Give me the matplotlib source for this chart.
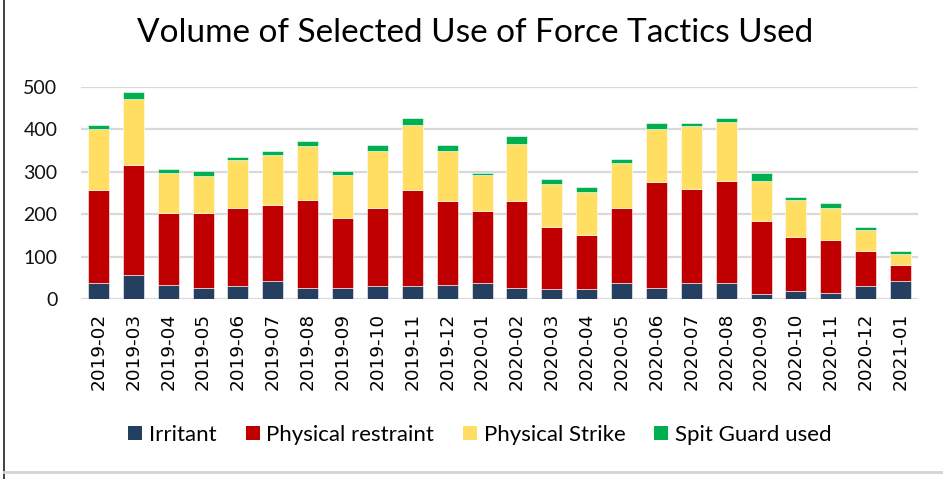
import matplotlib.pyplot as plt
import numpy as np
from matplotlib.lines import Line2D
from matplotlib.patches import Patch

months = ['2019-02', '2019-03', '2019-04', '2019-05', '2019-06', '2019-07',
          '2019-08', '2019-09', '2019-10', '2019-11', '2019-12', '2020-01',
          '2020-02', '2020-03', '2020-04', '2020-05', '2020-06', '2020-07',
          '2020-08', '2020-09', '2020-10', '2020-11', '2020-12', '2021-01']

irritant = [38, 57, 34, 27, 31, 42, 27, 27, 31, 31, 34, 38,
            27, 23, 23, 38, 27, 38, 38, 12, 19, 15, 31, 42]
restraint = [218, 259, 169, 176, 184, 180, 207, 165, 184, 225, 196, 169,
             203, 147, 128, 177, 248, 222, 241, 172, 128, 124, 82, 37]
strike = [144, 155, 95, 87, 113, 117, 127, 101, 135, 154, 120, 86,
          135, 101, 101, 106, 127, 147, 139, 95, 87, 76, 49, 26]
spit = [11, 16, 8, 12, 8, 9, 12, 9, 12, 16, 12, 5,
        19, 12, 12, 10, 13, 8, 8, 19, 7, 11, 8, 8]

colors = ['#253F60', '#C00000', '#FFDE62', '#00B050']
names = ['Irritant', 'Physical restraint', 'Physical Strike', 'Spit Guard used']

plt.rcParams['font.family'] = ['Lato', 'DejaVu Sans']

fig = plt.figure(figsize=(9.43, 4.79), dpi=100)
ax = fig.add_axes([0.0859, 0.3758, 0.8876, 0.4426])

x = np.arange(len(months))
bottom = np.zeros(len(months))
for vals, c in zip([irritant, restraint, strike, spit], colors):
    ax.bar(x, vals, 0.6, bottom=bottom, color=c, edgecolor='white', linewidth=0.4, zorder=3)
    bottom += np.array(vals)

ax.set_xlim(-0.5, len(months) - 0.5)
ax.set_ylim(0, 500)
ax.set_yticks(range(0, 501, 100))
ax.yaxis.grid(True, color='#D9D9D9', linewidth=1.6, zorder=0)
for s in ax.spines.values():
    s.set_visible(False)
ax.tick_params(axis='both', length=0)
ax.tick_params(axis='y', pad=17, labelsize=14, labelcolor='#111111')
ax.set_xticks(x)
ax.set_xticklabels(months, rotation=90, fontsize=13.3, family='DejaVu Sans')
ax.tick_params(axis='x', pad=10)

fig.text(0.504, 0.932, 'Volume of Selected Use of Force Tactics Used',
         ha='center', va='center', fontsize=24, color='#000000')

handles = [Patch(facecolor=c) for c in colors]
fig.legend(handles, names, loc='center', bbox_to_anchor=(0.509, 0.092), ncol=4,
           frameon=False, fontsize=16, handlelength=0.63, handleheight=0.63,
           handletextpad=0.3, columnspacing=1.3)

fig.add_artist(Line2D([0.004, 0.004], [0, 1], color='#222222', linewidth=1.2, transform=fig.transFigure))
fig.add_artist(Line2D([0.004, 1], [0.015, 0.015], color='#D4D4D4', linewidth=2.0, transform=fig.transFigure))

fig.savefig('out.png', dpi=100)
